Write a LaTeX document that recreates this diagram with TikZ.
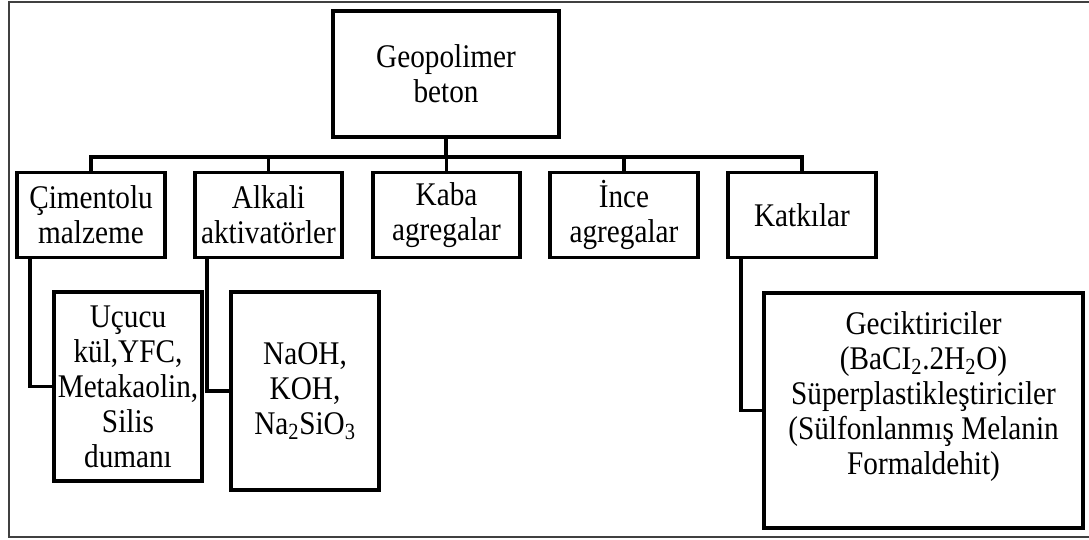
\documentclass[tikz,border=0pt]{standalone}
\usepackage{fontspec}
\setmainfont[FakeStretch=0.885]{Liberation Serif}

\begin{document}
\begin{tikzpicture}[x=0.025cm, y=-0.025cm,
  every node/.style={font=\fontsize{23.5}{24.9}\selectfont},
  box/.style={draw, line width=2.8pt, align=center, inner sep=0pt},
  catbox/.style={box, minimum width=3.68cm, minimum height=2.125cm},
  link/.style={line width=2.8pt}]

  \useasboundingbox (0,0) rectangle (1089,539);
  \draw[line width=1.7pt, black!75] (1089,2) -- (9,2) -- (9,537) -- (1089,537);

  \node[box, minimum width=5.65cm, minimum height=3.15cm] (geo) at (446,74) {Geopolimer\\beton};

  \node[catbox] (cim) at (91,215) {Çimentolu\\malzeme};
  \node[catbox] (alk) at (268.5,215) {Alkali\\aktivatörler};
  \node[catbox] (kaba) at (446.5,215) {Kaba\\agregalar};
  \node[catbox] (ince) at (624,215) {İnce\\agregalar};
  \node[catbox] (katki) at (802,215) {Katkılar};

  \foreach \c in {cim, alk, kaba, ince, katki}
    \draw[link] (geo.south) -- ++(0,18) -| (\c.north);

  \node[box, minimum width=3.7cm, minimum height=4.725cm] (ucucu) at (128,386.5)
    {Uçucu\\kül,YFC,\\Metakaolin,\\Silis\\dumanı};
  \node[box, minimum width=3.69cm, minimum height=4.95cm] (naoh) at (305,391)
    {NaOH,\\KOH,\\Na\textsubscript{2}SiO\textsubscript{3}};
  \node[box, minimum width=7.975cm, minimum height=5.875cm] (gecik) at (923.5,410.5)
    {Geciktiriciler\\(BaCI\textsubscript{2}.2H\textsubscript{2}O)\\Süperplastikleştiriciler\\(Sülfonlanmış Melanin\\Formaldehit)\\\mbox{}};

  \draw[link] ([xshift=0.375cm]cim.south west) |- (ucucu.west);
  \draw[link] ([xshift=0.35cm]alk.south west) |- (naoh.west);
  \draw[link] ([xshift=0.375cm]katki.south west) |- (gecik.west);
\end{tikzpicture}
\end{document}
